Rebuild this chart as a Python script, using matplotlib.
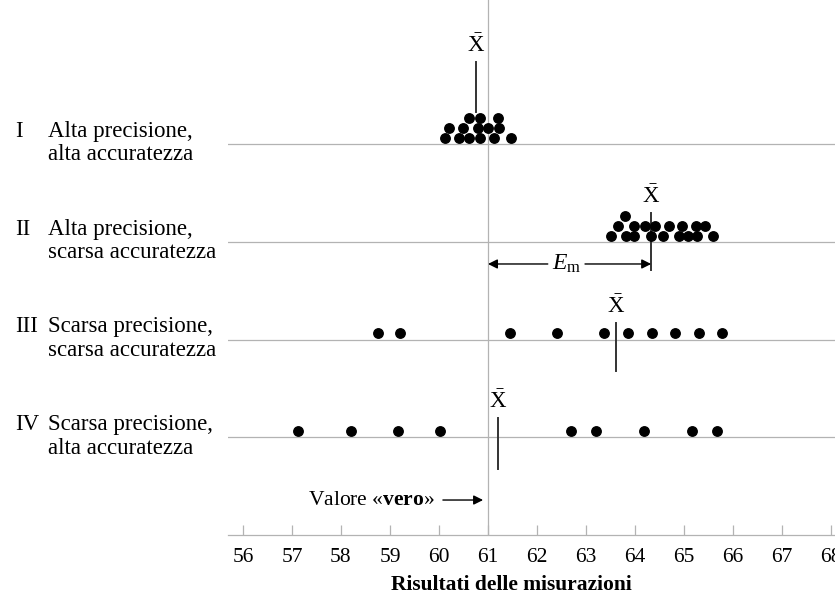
import matplotlib.pyplot as plt
from matplotlib.transforms import blended_transform_factory

plt.rcParams["font.family"] = ["Liberation Serif", "DejaVu Serif"]
plt.rcParams["mathtext.fontset"] = "custom"
plt.rcParams["mathtext.rm"] = "Liberation Serif"
plt.rcParams["mathtext.it"] = "Liberation Serif:italic"
plt.rcParams["mathtext.bf"] = "Liberation Serif:bold"

# valori delle misurazioni per ogni serie (livello = riga della pila di punti)
vals_1 = [60.12, 60.41, 60.61, 60.84, 61.12, 61.47,
          60.20, 60.49, 60.80, 61.00, 61.22,
          60.61, 60.84, 61.20]
levels_1 = [0, 0, 0, 0, 0, 0, 1, 1, 1, 1, 1, 2, 2, 2]

vals_2 = [63.51, 63.82, 63.98, 64.33, 64.57, 64.90, 65.08, 65.27, 65.59,
          63.65, 63.98, 64.20, 64.41, 64.69, 64.96, 65.24, 65.43,
          63.80]
levels_2 = [0] * 9 + [1] * 8 + [2]

vals_3 = [58.76, 59.20, 61.45, 62.41, 63.37, 63.86, 64.35, 64.82, 65.31, 65.78]
levels_3 = [0] * 10

vals_4 = [57.12, 58.20, 59.16, 60.02, 62.69, 63.20, 64.18, 65.16, 65.67]
levels_4 = [0] * 9

means = [60.76, 64.33, 63.62, 61.20]
true_value = 61
numerals = ["I", "II", "III", "IV"]
labels = ["Alta precisione,\nalta accuratezza",
          "Alta precisione,\nscarsa accuratezza",
          "Scarsa precisione,\nscarsa accuratezza",
          "Scarsa precisione,\nalta accuratezza"]
ticks = list(range(56, 69))

rows_y = [4, 3, 2, 1]
# estensione verticale della linea della media rispetto alla riga
mean_spans = [(0.33, 0.84), (-0.29, 0.30), (-0.32, 0.17), (-0.32, 0.20)]

grey = "#b3b3b3"

fig = plt.figure(figsize=(8.35, 5.96), dpi=100)
ax = fig.add_axes([228 / 835, 61 / 596, 1 - 228 / 835, 535 / 596])
ax.set_xlim(55.694, 68.082)
ax.set_ylim(0, 5.476)

for s in ["left", "top", "right"]:
    ax.spines[s].set_visible(False)
ax.spines["bottom"].set_color(grey)
ax.spines["bottom"].set_linewidth(0.9)
ax.set_yticks([])
ax.set_xticks(ticks)
ax.tick_params(axis="x", direction="in", length=7, width=0.9, color=grey,
               labelsize=15.5, pad=9)

ax.axvline(true_value, color=grey, lw=0.9, zorder=1)

series = [(vals_1, levels_1), (vals_2, levels_2), (vals_3, levels_3), (vals_4, levels_4)]
trans_lab = blended_transform_factory(fig.transFigure, ax.transData)

for i, (vals, levels) in enumerate(series):
    base = rows_y[i]
    ax.axhline(base, color=grey, lw=0.9, zorder=1)
    ys = [base + 0.065 + lv * 0.102 for lv in levels]
    ax.plot(vals, ys, "o", color="black", markersize=6.8, zorder=3, clip_on=False)

    lo, hi = mean_spans[i]
    ax.plot([means[i], means[i]], [base + lo, base + hi], color="#333333", lw=1.4, zorder=2)
    ax.text(means[i], base + hi + 0.05, r"$\bar{\mathrm{X}}$", ha="center", va="bottom",
            fontsize=16.5)

    # il numero romano sta sulla prima riga dell'etichetta
    ax.text(15 / 835, base + 0.01, numerals[i] + "\n ", transform=trans_lab, ha="left",
            va="center", fontsize=16.5, linespacing=1.15)
    ax.text(48 / 835, base + 0.01, labels[i], transform=trans_lab, ha="left",
            va="center", fontsize=16.5, linespacing=1.15)

# errore medio E_m
y_em = 2.774
ax.annotate("", xy=(true_value, y_em), xytext=(62.22, y_em),
            arrowprops=dict(arrowstyle="-|>", color="black", lw=1.0,
                            shrinkA=0, shrinkB=0, mutation_scale=14))
ax.annotate("", xy=(means[1], y_em), xytext=(62.98, y_em),
            arrowprops=dict(arrowstyle="-|>", color="black", lw=1.0,
                            shrinkA=0, shrinkB=0, mutation_scale=14))
ax.text(62.6, y_em, r"$E_\mathrm{m}$", ha="center", va="center", fontsize=17)

# valore vero
y_true = 0.358
ax.text(59.92, y_true, r"Valore «$\mathbf{vero}$»", ha="right", va="center", fontsize=15.5)
ax.annotate("", xy=(60.9, y_true), xytext=(60.08, y_true),
            arrowprops=dict(arrowstyle="-|>", color="black", lw=1.0,
                            shrinkA=0, shrinkB=0, mutation_scale=14))

fig.text(511 / 835, 1 - 585 / 596, "Risultati delle misurazioni", ha="center", va="center",
         fontsize=15.5, fontweight="bold")

fig.savefig("out.png", dpi=100)
